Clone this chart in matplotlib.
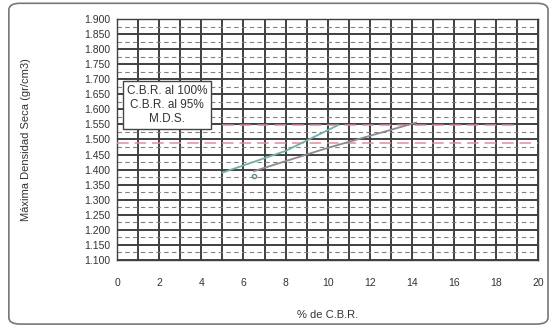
import matplotlib
matplotlib.use('Agg')
import matplotlib.pyplot as plt
from matplotlib.patches import FancyBboxPatch
from matplotlib.ticker import MultipleLocator, FuncFormatter

cbr100_x = [5.0, 8.0, 10.5]
cbr100_y = [1.390, 1.462, 1.548]
cbr95_x = [6.5, 10.0, 14.2]
cbr95_y = [1.395, 1.472, 1.556]
mds_x = [5.0, 19.0]
mds_y = [1.548, 1.548]
mds95_x = [0.0, 20.0]
mds95_y = [1.488, 1.488]

legend_lines = ['C.B.R. al 100%', 'C.B.R. al 95%', 'M.D.S.']

plt.rcParams['font.family'] = ['Liberation Sans', 'DejaVu Sans']

fig = plt.figure(figsize=(5.53, 3.29), dpi=100)
ax = fig.add_axes([0.212, 0.21, 0.761, 0.732])

# outer rounded frame
frame = FancyBboxPatch((0.016, 0.015), 0.975, 0.975, boxstyle='round,pad=0,rounding_size=0.02',
                       transform=fig.transFigure, fill=False, ec='#777777', lw=1.2)
fig.patches.append(frame)

ax.plot(mds95_x, mds95_y, color='#e08a9a', ls=(0, (6, 3)), lw=1.4, alpha=0.75, zorder=3)
ax.plot(mds_x, mds_y, color='#e08a9a', ls=(0, (6, 3)), lw=1.4, alpha=0.75, zorder=3)
ax.plot(cbr100_x, cbr100_y, color='#6fb0a8', lw=1.3, zorder=4)
ax.plot(cbr95_x, cbr95_y, color='#8f8790', lw=1.3, zorder=4)
ax.plot(cbr95_x[0], cbr95_y[0] - 0.015, 'o', ms=3, mfc='none', mec='#6a8a80', zorder=5)

ax.set_xlim(0, 20)
ax.set_ylim(1.1, 1.9)
ax.xaxis.set_major_locator(MultipleLocator(2))
ax.xaxis.set_minor_locator(MultipleLocator(1))
ax.yaxis.set_major_locator(MultipleLocator(0.05))
ax.yaxis.set_minor_locator(MultipleLocator(0.025))
ax.yaxis.set_major_formatter(FuncFormatter(lambda v, p: f'{v:.3f}'))

ax.grid(True, which='major', color='#404040', lw=1.4)
ax.grid(True, which='minor', axis='x', color='#404040', lw=1.4)
ax.grid(True, which='minor', axis='y', color='#808080', lw=0.8, ls=(0, (4, 3)))
ax.set_axisbelow(True)
for s in ax.spines.values():
    s.set_color('#404040')
    s.set_linewidth(1.0)
ax.tick_params(which='both', length=0, labelsize=7.5, colors='#333333', pad=5)
ax.tick_params(axis='x', pad=13)

ax.set_xlabel('% de C.B.R.', fontsize=8, color='#333333', labelpad=16)
ax.set_ylabel('Máxima Densidad Seca (gr/cm3)', fontsize=8, color='#333333', labelpad=38)

ax.text(0.45, 1.615, '\n'.join(legend_lines), fontsize=8.5, color='#333333', ha='left', va='center',
        multialignment='center', linespacing=1.2, zorder=6,
        bbox=dict(boxstyle='square,pad=0.35', fc='white', ec='#444444', lw=1.0))

fig.savefig('out.png', dpi=100)
